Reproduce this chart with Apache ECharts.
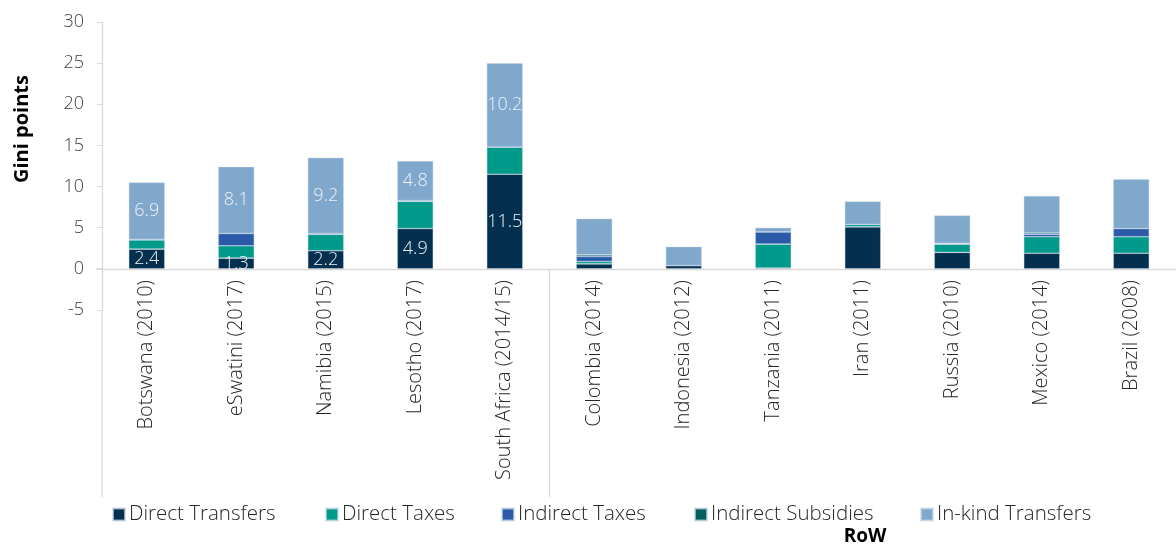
<!DOCTYPE html>
<html>
<head>
<meta charset="utf-8">
<script src="https://cdn.jsdelivr.net/npm/echarts@6/dist/echarts.min.js"></script>
<style>
html,body{margin:0;padding:0;background:#fff;}
#main{width:1176px;height:546px;}
</style>
</head>
<body>
<div id="main"></div>
<script>
const categories = ['Botswana (2010)','eSwatini (2017)','Namibia (2015)','Lesotho (2017)','South Africa (2014/15)','Colombia (2014)','Indonesia (2012)','Tanzania (2011)','Iran (2011)','Russia (2010)','Mexico (2014)','Brazil (2008)'];
const directTransfers   = [2.4, 1.3, 2.2, 4.9, 11.5, 0.6, 0.4, 0.1, 5.1, 2.0, 1.9, 1.9];
const directTaxes       = [1.1, 1.5, 2.0, 3.3, 3.3, 0.3, 0.0, 2.9, 0.3, 1.0, 2.0, 2.0];
const indirectTaxes     = [0.1, 1.5, 0.0, 0.0, 0.0, 0.6, 0.0, 1.5, 0.0, 0.0, 0.3, 1.0];
const indirectSubsidies = [0.0, 0.0, 0.1, 0.1, 0.0, 0.2, 0.0, 0.0, 0.0, 0.1, 0.15, 0.0];
const inKindTransfers   = [6.9, 8.1, 9.2, 4.8, 10.2, 4.4, 2.3, 0.5, 2.8, 3.4, 4.5, 6.0];
const yTicks = [-5, 0, 5, 10, 15, 20, 25, 30];
const labelledCount = 5; // SSA group carries value labels
const groupLabel = 'RoW';

const FONT = '"Open Sans", "Noto Sans", sans-serif';
const chart = echarts.init(document.getElementById('main'), null, {renderer: 'canvas'});

const colors = {
  'Direct Transfers': '#03304f',
  'Direct Taxes': '#009a8b',
  'Indirect Taxes': '#2b5ba8',
  'Indirect Subsidies': '#005f5f',
  'In-kind Transfers': '#80a8cc'
};

function mk(name, data, labelled) {
  return {
    name: name,
    type: 'bar',
    stack: 'total',
    barWidth: 36,
    data: data,
    itemStyle: {color: colors[name], borderColor: 'rgba(200,215,230,0.7)', borderWidth: 0.6},
    label: {
      show: labelled,
      position: 'inside',
      color: '#eef2f7',
      fontFamily: FONT,
      fontWeight: 300,
      fontSize: 18,
      formatter: p => p.dataIndex < labelledCount ? p.value.toFixed(1) : ''
    },
    emphasis: {disabled: true}
  };
}

const legendPos = [
  ['Direct Transfers', 112],
  ['Direct Taxes', 325],
  ['Indirect Taxes', 501],
  ['Indirect Subsidies', 694],
  ['In-kind Transfers', 920]
];

chart.setOption({
  animation: false,
  textStyle: {fontFamily: FONT},
  grid: {left: 102, top: 22, width: 1084, height: 288, containLabel: false},
  legend: legendPos.map(([n, x]) => ({
    data: [n], left: x, top: 504, padding: 0, icon: 'rect', itemWidth: 12, itemHeight: 12, itemGap: 5,
    selectedMode: false,
    textStyle: {fontFamily: FONT, fontSize: 20.5, fontWeight: 300, color: '#262626', padding: [0,0,0,-1]}
  })),
  xAxis: {
    type: 'category',
    data: categories,
    axisLine: {onZero: true, lineStyle: {color: '#d9d9d9', width: 1.3}},
    axisTick: {show: false},
    axisLabel: {rotate: 90, margin: -30, fontSize: 20, fontWeight: 300, color: '#262626', fontFamily: FONT, interval: 0}
  },
  yAxis: {
    type: 'value',
    min: -5, max: 30, interval: 5,
    splitLine: {show: false},
    axisLine: {show: true, lineStyle: {color: '#d9d9d9', width: 1.3}},
    axisTick: {show: true, length: 5, lineStyle: {color: '#d9d9d9'}},
    axisLabel: {fontSize: 18, fontWeight: 300, color: '#404040', fontFamily: FONT, margin: 18,
      customValues: yTicks}
  },
  series: [
    mk('Direct Transfers', directTransfers, true),
    mk('Direct Taxes', directTaxes, false),
    mk('Indirect Taxes', indirectTaxes, false),
    mk('Indirect Subsidies', indirectSubsidies, false),
    mk('In-kind Transfers', inKindTransfers, true)
  ]
});

// Decorative separators derived from the axis scales
const x0 = chart.convertToPixel({gridIndex: 0}, [0, 0]);
const x4 = chart.convertToPixel({gridIndex: 0}, [4, 0]);
const x5 = chart.convertToPixel({gridIndex: 0}, [5, 0]);
const yMin = chart.convertToPixel({gridIndex: 0}, [0, -5])[1];
const yZero = x0[1];
const yTop = chart.convertToPixel({gridIndex: 0}, [0, 30])[1];
const step = x5[0] - x4[0];
const leftEdge = x0[0] - step / 2;
const sepX = (x4[0] + x5[0]) / 2;
const bottomY = 497;

chart.setOption({
  graphic: [
    {type: 'line', shape: {x1: leftEdge, y1: yMin, x2: leftEdge, y2: bottomY}, style: {stroke: '#d9d9d9', lineWidth: 1.3}, silent: true},
    {type: 'line', shape: {x1: sepX, y1: yZero, x2: sepX, y2: bottomY}, style: {stroke: '#d9d9d9', lineWidth: 1.3}, silent: true},
    {type: 'line', shape: {x1: leftEdge - 6, y1: yZero, x2: leftEdge, y2: yZero}, style: {stroke: '#d9d9d9', lineWidth: 1.3}, silent: true},
    {type: 'text', x: 22, y: (yTop + yMin) / 2 - 37, rotation: Math.PI / 2,
      style: {text: 'Gini points', fontFamily: FONT, fontSize: 20, fontWeight: 'bold', fill: '#000', align: 'center', verticalAlign: 'middle'}, silent: true},
    {type: 'text', x: 865, y: 537,
      style: {text: groupLabel, fontFamily: FONT, fontSize: 19, fontWeight: 'bold', fill: '#000', align: 'center', verticalAlign: 'middle'}, silent: true}
  ]
});
</script>
</body>
</html>
